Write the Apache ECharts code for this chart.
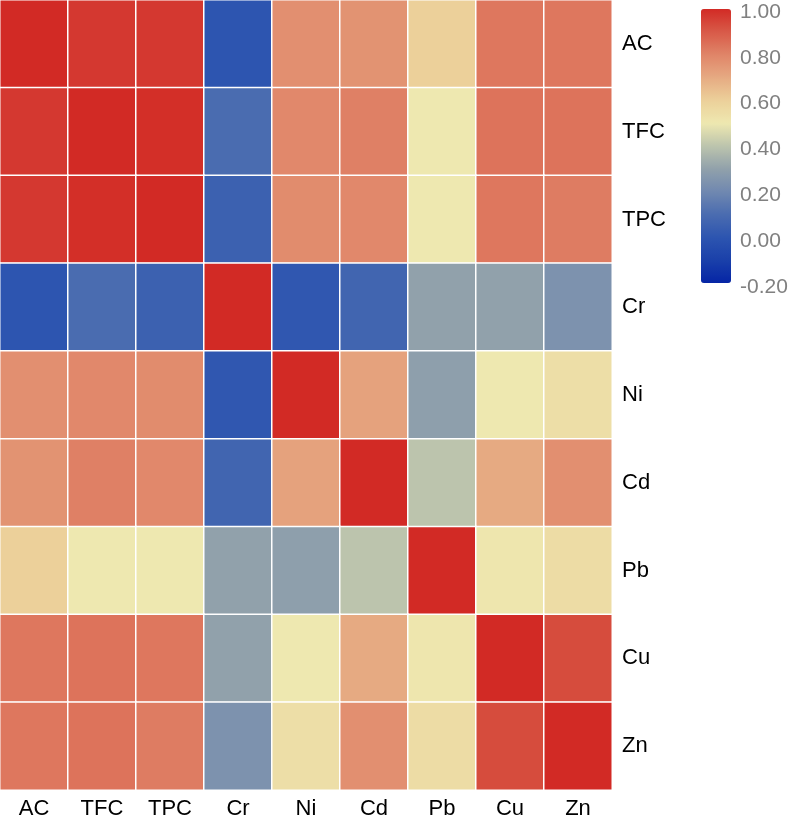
<!DOCTYPE html>
<html><head><meta charset="utf-8">
<script src="https://cdn.jsdelivr.net/npm/echarts@6/dist/echarts.min.js"></script>
<style>html,body{margin:0;padding:0;background:#fff}#c{width:792px;height:820px}</style>
</head><body><div id="c"></div>
<script>
const variables = ['AC','TFC','TPC','Cr','Ni','Cd','Pb','Cu','Zn'];
const rowAC  = [1.00, 0.97, 0.97, 0.00, 0.77, 0.76, 0.60, 0.83, 0.83];
const rowTFC = [0.97, 1.00, 0.99, 0.10, 0.79, 0.81, 0.50, 0.84, 0.84];
const rowTPC = [0.97, 0.99, 1.00, 0.05, 0.78, 0.79, 0.50, 0.83, 0.82];
const rowCr  = [0.00, 0.10, 0.05, 1.00, 0.01, 0.07, 0.30, 0.30, 0.24];
const rowNi  = [0.77, 0.79, 0.78, 0.01, 1.00, 0.72, 0.29, 0.50, 0.54];
const rowCd  = [0.76, 0.81, 0.79, 0.07, 0.72, 1.00, 0.40, 0.70, 0.77];
const rowPb  = [0.60, 0.50, 0.50, 0.30, 0.29, 0.40, 1.00, 0.51, 0.55];
const rowCu  = [0.83, 0.84, 0.83, 0.30, 0.50, 0.70, 0.51, 1.00, 0.93];
const rowZn  = [0.83, 0.84, 0.82, 0.24, 0.54, 0.77, 0.55, 0.93, 1.00];
const rows = [rowAC,rowTFC,rowTPC,rowCr,rowNi,rowCd,rowPb,rowCu,rowZn];
const scaleMin = -0.2, scaleMax = 1.0, scaleStep = 0.2;

const data = [];
rows.forEach((r, yi) => r.forEach((v, xi) => data.push([xi, yi, v])));

const font = 'Liberation Sans, Arial, sans-serif';
const chart = echarts.init(document.getElementById('c'));
chart.setOption({
  animation: false,
  backgroundColor: '#fff',
  grid: [
    {left: 0, top: 0, width: 612, height: 790},
    {left: 740, top: 12, width: 10, height: 275}
  ],
  xAxis: [
    {type: 'category', data: variables, gridIndex: 0, position: 'bottom',
     axisLine: {show: false}, axisTick: {show: false}, splitLine: {show: false},
     axisLabel: {color: '#000', fontSize: 22, fontFamily: font, margin: 8}},
    {type: 'value', gridIndex: 1, show: false}
  ],
  yAxis: [
    {type: 'category', data: variables, gridIndex: 0, position: 'right', inverse: true,
     axisLine: {show: false}, axisTick: {show: false}, splitLine: {show: false},
     axisLabel: {color: '#000', fontSize: 22, fontFamily: font, margin: 10}},
    {type: 'value', gridIndex: 1, min: scaleMin, max: scaleMax, interval: scaleStep, position: 'left',
     axisLine: {show: false}, axisTick: {show: false}, splitLine: {show: false},
     axisLabel: {inside: true, margin: 0, color: '#808080', fontSize: 21, fontFamily: font,
       formatter: v => v.toFixed(2)}}
  ],
  visualMap: {
    type: 'continuous', min: scaleMin, max: scaleMax, calculable: false,
    orient: 'vertical', left: 701, top: 9, itemWidth: 30, itemHeight: 274, padding: 0,
    text: null, showLabel: false, seriesIndex: 0,
    inRange: {color: ['#0525a5','#1a40aa','#2d55b0','#4a6cb0','#7088b0','#91a1ab','#bcc4ad',
                      '#eee8b0','#ecd09a','#e6aa82','#e08468','#d85a48','#d22a25']}
  },
  series: [{
    type: 'heatmap', xAxisIndex: 0, yAxisIndex: 0, data: data,
    itemStyle: {borderColor: '#fff', borderWidth: 1.5},
    emphasis: {disabled: true}
  }]
});
</script></body></html>
